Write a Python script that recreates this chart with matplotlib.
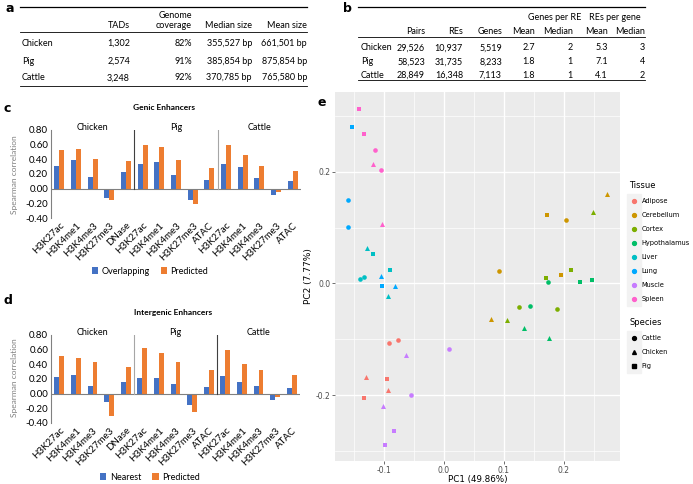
import numpy as np
import matplotlib.pyplot as plt
from matplotlib.lines import Line2D
from matplotlib.legend_handler import HandlerTuple

W, H = 693, 484

# ---- table a: TADs ----
species_rows = ["Chicken", "Pig", "Cattle"]
tad_counts = ["1,302", "2,574", "3,248"]
tad_coverage = ["82%", "91%", "92%"]
tad_median = ["355,527 bp", "385,854 bp", "370,785 bp"]
tad_mean = ["661,501 bp", "875,854 bp", "765,580 bp"]

# ---- table b: RE-gene pairs ----
re_pairs = ["29,526", "58,523", "28,849"]
re_counts = ["10,937", "31,735", "16,348"]
re_genes = ["5,519", "8,233", "7,113"]
genes_per_re_mean = ["2.7", "1.8", "1.8"]
genes_per_re_median = ["2", "1", "1"]
res_per_gene_mean = ["5.3", "7.1", "4.1"]
res_per_gene_median = ["3", "4", "2"]

# ---- panels c and d ----
marks = ["H3K27ac", "H3K4me1", "H3K4me3", "H3K27me3", "DNase",
         "H3K27ac", "H3K4me1", "H3K4me3", "H3K27me3", "ATAC",
         "H3K27ac", "H3K4me1", "H3K4me3", "H3K27me3", "ATAC"]
groups = ["Chicken", "Pig", "Cattle"]
genic_overlapping = [0.31, 0.39, 0.16, -0.13, 0.23,
                     0.33, 0.37, 0.19, -0.16, 0.12,
                     0.34, 0.29, 0.15, -0.09, 0.11]
genic_predicted = [0.53, 0.54, 0.40, -0.15, 0.38,
                   0.60, 0.57, 0.39, -0.21, 0.28,
                   0.60, 0.46, 0.31, -0.04, 0.24]
intergenic_nearest = [0.23, 0.25, 0.11, -0.12, 0.16,
                      0.22, 0.22, 0.13, -0.15, 0.09,
                      0.24, 0.16, 0.10, -0.09, 0.08]
intergenic_predicted = [0.52, 0.48, 0.43, -0.31, 0.36,
                        0.62, 0.56, 0.43, -0.25, 0.32,
                        0.60, 0.41, 0.32, -0.05, 0.25]

# ---- panel e: PCA ----
tissues = ["Adipose", "Cerebellum", "Cortex", "Hypothalamus", "Liver", "Lung", "Muscle", "Spleen"]
tissue_colors = ["#F8766D", "#CD9600", "#7CAE00", "#00BE67", "#00BFC4", "#00A9FF", "#C77CFF", "#FF61CC"]
species_names = ["Cattle", "Chicken", "Pig"]
species_markers = ["o", "^", "s"]

pca_tissue = ["Spleen", "Spleen", "Spleen", "Spleen", "Spleen", "Spleen",
              "Lung", "Lung", "Lung", "Lung", "Lung", "Lung",
              "Liver", "Liver", "Liver", "Liver", "Liver", "Liver",
              "Adipose", "Adipose", "Adipose", "Adipose", "Adipose", "Adipose",
              "Muscle", "Muscle", "Muscle", "Muscle", "Muscle", "Muscle",
              "Cerebellum", "Cerebellum", "Cerebellum", "Cerebellum", "Cerebellum", "Cerebellum",
              "Cortex", "Cortex", "Cortex", "Cortex", "Cortex", "Cortex",
              "Hypothalamus", "Hypothalamus", "Hypothalamus", "Hypothalamus", "Hypothalamus", "Hypothalamus"]
pca_species = ["Pig", "Pig", "Cattle", "Chicken", "Cattle", "Chicken",
               "Pig", "Cattle", "Cattle", "Chicken", "Pig", "Chicken",
               "Chicken", "Pig", "Pig", "Cattle", "Cattle", "Chicken",
               "Cattle", "Cattle", "Chicken", "Pig", "Chicken", "Pig",
               "Chicken", "Cattle", "Cattle", "Chicken", "Pig", "Pig",
               "Pig", "Cattle", "Cattle", "Pig", "Chicken", "Chicken",
               "Chicken", "Pig", "Pig", "Cattle", "Cattle", "Chicken",
               "Cattle", "Pig", "Pig", "Cattle", "Chicken", "Chicken"]
pc1 = [-0.142, -0.134, -0.115, -0.118, -0.106, -0.104,
       -0.153, -0.161, -0.161, -0.105, -0.104, -0.082,
       -0.129, -0.119, -0.090, -0.140, -0.133, -0.094,
       -0.077, -0.091, -0.131, -0.095, -0.094, -0.133,
       -0.064, 0.009, -0.055, -0.102, -0.084, -0.098,
       0.172, 0.204, 0.092, 0.195, 0.079, 0.273,
       0.249, 0.212, 0.171, 0.125, 0.189, 0.106,
       0.174, 0.227, 0.248, 0.143, 0.134, 0.176]
pc2 = [0.312, 0.267, 0.239, 0.214, 0.204, 0.107,
       0.281, 0.149, 0.101, 0.013, -0.005, -0.005,
       0.063, 0.053, 0.024, 0.008, 0.011, -0.022,
       -0.101, -0.107, -0.167, -0.171, -0.191, -0.206,
       -0.128, -0.118, -0.200, -0.219, -0.265, -0.290,
       0.122, 0.113, 0.022, 0.015, -0.064, 0.161,
       0.128, 0.024, 0.010, -0.042, -0.045, -0.066,
       0.002, 0.002, 0.006, -0.040, -0.080, -0.098]

BLUE = "#4472C4"
ORANGE = "#ED7D31"
TFONT = "Lato"


def rect(x0, y0, x1, y1):
    return [x0 / W, 1 - y1 / H, (x1 - x0) / W, (y1 - y0) / H]


def ftext(fig, x, y, s, **kw):
    kw.setdefault("fontsize", 6.5)
    kw.setdefault("family", TFONT)
    kw.setdefault("va", "center")
    fig.text(x / W, 1 - y / H, s, **kw)


def fline(fig, x0, x1, y, lw=0.6):
    fig.add_artist(Line2D([x0 / W, x1 / W], [1 - y / H, 1 - y / H], color="black",
                          lw=lw, transform=fig.transFigure))


def panel_letter(fig, x, y, s):
    ftext(fig, x, y, s, fontsize=9, weight="bold", family="DejaVu Sans")


def draw_table_a(fig):
    panel_letter(fig, 5, 8, "a")
    fline(fig, 20, 307, 7, lw=0.9)
    ftext(fig, 192, 15, "Genome", ha="right")
    ftext(fig, 130, 25, "TADs", ha="right")
    ftext(fig, 192, 25, "coverage", ha="right")
    ftext(fig, 252, 25, "Median size", ha="right")
    ftext(fig, 307, 25, "Mean size", ha="right")
    fline(fig, 20, 307, 32)
    for i, y in enumerate([43, 61, 78]):
        ftext(fig, 22, y, species_rows[i], ha="left")
        ftext(fig, 130, y, tad_counts[i], ha="right")
        ftext(fig, 192, y, tad_coverage[i], ha="right")
        ftext(fig, 252, y, tad_median[i], ha="right")
        ftext(fig, 307, y, tad_mean[i], ha="right")
    fline(fig, 20, 307, 86)


def draw_table_b(fig):
    panel_letter(fig, 343, 8, "b")
    fline(fig, 358, 645, 7, lw=0.9)
    ftext(fig, 555, 18, "Genes per RE", ha="center")
    ftext(fig, 615, 18, "REs per gene", ha="center")
    heads = ["Pairs", "REs", "Genes", "Mean", "Median", "Mean", "Median"]
    rights = [425, 463, 502, 535, 573, 608, 645]
    for h, r in zip(heads, rights):
        ftext(fig, r, 32, h, ha="right")
    fline(fig, 358, 645, 37)
    cols = [re_pairs, re_counts, re_genes, genes_per_re_mean, genes_per_re_median,
            res_per_gene_mean, res_per_gene_median]
    for i, y in enumerate([48, 62, 75]):
        ftext(fig, 361, y, species_rows[i], ha="left")
        for col, r in zip(cols, rights):
            ftext(fig, r, y, col[i], ha="right")
    fline(fig, 358, 645, 80)


def draw_bars(fig, box, title, title_x, blue_vals, orange_vals, labels,
              legend_y, divider_colors, ylab_y):
    ax = fig.add_axes(rect(*box))
    x = np.arange(len(marks))
    b1 = ax.bar(x - 0.15, blue_vals, 0.3, color=BLUE, label=labels[0])
    b2 = ax.bar(x + 0.15, orange_vals, 0.3, color=ORANGE, label=labels[1])
    ax.set_xlim(-0.5, len(marks) - 0.5)
    ax.set_ylim(-0.4, 0.8)
    ax.axhline(0, color="#808080", lw=0.8)
    for xd, c in zip([4.5, 9.5], divider_colors):
        ax.plot([xd, xd], [0, 0.8], color=c, lw=0.8)
    for gx, g in zip([2, 7, 12], groups):
        ax.text(gx, 0.83, g, ha="center", va="center", fontsize=6.5, family=TFONT)
    for s in ["top", "right", "bottom"]:
        ax.spines[s].set_visible(False)
    ax.spines["left"].set_color("#808080")
    ax.spines["left"].set_linewidth(0.8)
    ticks = np.arange(-0.4, 0.81, 0.2)
    ax.set_yticks(ticks)
    ax.set_yticklabels(["%.2f" % v for v in ticks])
    ax.set_xticks(x)
    ax.set_xticklabels(marks, rotation=45, ha="right", va="top", rotation_mode="anchor")
    ax.tick_params(length=0, labelsize=7, pad=2)
    for t in ax.get_xticklabels() + ax.get_yticklabels():
        t.set_family(TFONT)
    ftext(fig, title_x, box[1] - 22, title, ha="center", weight="bold", fontsize=6)
    ftext(fig, 15, ylab_y, "Spearman correlation", ha="center", rotation=90,
          color="#808080", fontsize=6)
    fig.legend(handles=[b1, b2], loc="center", bbox_to_anchor=(150 / W, 1 - legend_y / H),
               ncol=2, frameon=False, handlelength=0.7, handleheight=0.7,
               handletextpad=0.4, columnspacing=1.2, prop={"family": TFONT, "size": 6.5})
    return ax


def draw_pca(fig):
    ax = fig.add_axes(rect(335, 92, 620, 461))
    ax.set_facecolor("#EBEBEB")
    for s in ax.spines.values():
        s.set_visible(False)
    ax.set_xlim(-0.182, 0.294)
    ax.set_ylim(-0.318, 0.343)
    ax.set_xticks([-0.1, 0.0, 0.1, 0.2])
    ax.set_xticklabels(["-0.1", "0.0", "0.1", "0.2"])
    ax.set_yticks([-0.2, 0.0, 0.2])
    ax.set_yticklabels(["-0.2", "0.0", "0.2"])
    ax.set_xticks([-0.15, -0.05, 0.05, 0.15, 0.25], minor=True)
    ax.set_yticks([-0.3, -0.1, 0.1, 0.3], minor=True)
    ax.grid(which="major", color="white", lw=1.0)
    ax.grid(which="minor", color="white", lw=0.5)
    ax.set_axisbelow(True)
    ax.tick_params(which="major", length=2, width=0.5, color="#333333",
                   labelcolor="#4D4D4D", labelsize=5.5, pad=1.5)
    ax.tick_params(which="minor", length=0)
    ax.set_xlabel("PC1 (49.86%)", fontsize=6.3, labelpad=0)
    ax.set_ylabel("PC2 (7.77%)", fontsize=6.5, labelpad=1.5)

    for t, c in zip(tissues, tissue_colors):
        for sp, m in zip(species_names, species_markers):
            xs = [a for a, tt, ss in zip(pc1, pca_tissue, pca_species) if tt == t and ss == sp]
            ys = [b for b, tt, ss in zip(pc2, pca_tissue, pca_species) if tt == t and ss == sp]
            if xs:
                ax.scatter(xs, ys, color=c, marker=m, s=11 if m != "^" else 13,
                           linewidths=0, zorder=3)

    key = dict(marker="s", ms=9.5, color="#F2F2F2", ls="")
    tissue_handles = [(Line2D([], [], **key), Line2D([], [], marker="o", ms=2.8, color=c, ls=""))
                      for c in tissue_colors]
    species_handles = [(Line2D([], [], **key), Line2D([], [], marker=m, ms=2.8, color="black", ls=""))
                       for m in species_markers]
    common = dict(frameon=False, fontsize=4.8, title_fontsize=6, handlelength=1.5,
                  handletextpad=0.4, labelspacing=1.2, borderpad=0, borderaxespad=0,
                  alignment="left", handler_map={tuple: HandlerTuple(ndivide=1)})
    fig.legend(tissue_handles, tissues, title="Tissue", loc="upper left",
               bbox_to_anchor=(629 / W, 1 - 181 / H), **common)
    fig.legend(species_handles, species_names, title="Species", loc="upper left",
               bbox_to_anchor=(629 / W, 1 - 318 / H), **common)
    panel_letter(fig, 318, 103, "e")


fig = plt.figure(figsize=(W / 100, H / 100), dpi=100)
draw_table_a(fig)
draw_table_b(fig)
draw_bars(fig, (51, 130, 301, 218), "Genic Enhancers", 164,
          genic_overlapping, genic_predicted, ["Overlapping", "Predicted"], 271,
          ["#404040", "#A6A6A6"], 175)
panel_letter(fig, 4, 108, "c")
draw_bars(fig, (51, 335, 300, 423), "Intergenic Enhancers", 173,
          intergenic_nearest, intergenic_predicted, ["Nearest", "Predicted"], 477,
          ["#A6A6A6", "#404040"], 378)
panel_letter(fig, 4, 301, "d")
draw_pca(fig)

fig.savefig("out.png", dpi=100)
